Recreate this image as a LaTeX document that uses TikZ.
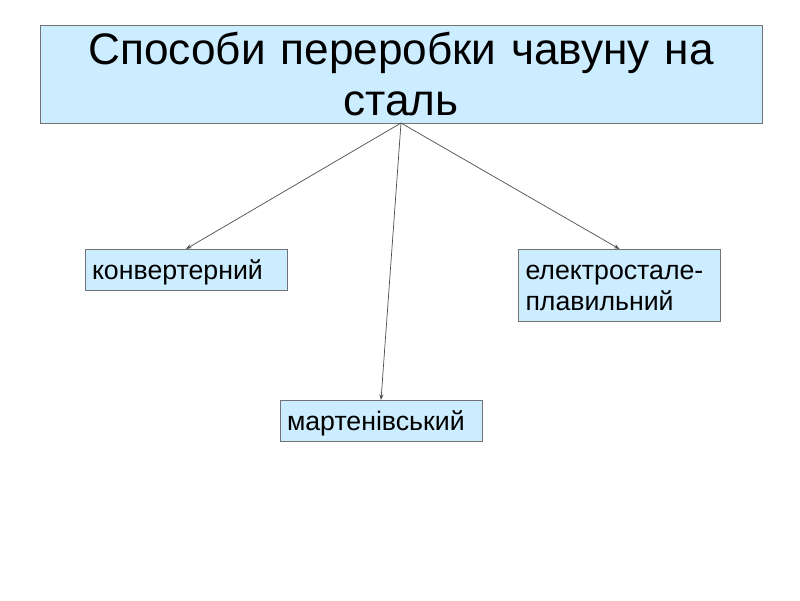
\documentclass[tikz,border=0pt]{standalone}
\usepackage{fontspec}
\setmainfont{Liberation Sans}
\usetikzlibrary{arrows.meta, positioning}

\begin{document}
\begin{tikzpicture}[
  x=0.025cm, y=-0.025cm,
  box/.style={rectangle, draw=black!55, fill={rgb,255:red,204;green,236;blue,255},
             line width=0.6pt, inner sep=0pt, outer sep=0pt},
  headbox/.style={box, minimum width=722*0.025cm, minimum height=98*0.025cm,
             text width=700*0.025cm, align=center,
             font=\fontsize{31.4}{36.9}\selectfont},
  waybox/.style={box, minimum width=202*0.025cm, text width=188*0.025cm,
             align=left, font=\fontsize{19}{22}\selectfont},
  oneline/.style={text height=16pt, text depth=2pt},
  arrow/.style={-{Stealth[length=4pt, width=3pt, open]}, line width=0.5pt, color=black!70}
]
\useasboundingbox (0,0) rectangle (800,600);
\node[headbox] (head) at (401,74) {Способи переробки чавуну на\\сталь};
\node[waybox, oneline, minimum height=41*0.025cm] (conv) at (186,269.5) {конвертерний};
\node[waybox, minimum height=72*0.025cm] (elec) at (619.5,285) {\rule{0pt}{15pt}електростале-\\плавильний};
\node[waybox, oneline, minimum height=41*0.025cm] (mart) at (381,420.5) {мартенівський};

\draw[arrow] (head.south) -- (conv.north);
\draw[arrow] (head.south) -- (mart.north);
\draw[arrow] (head.south) -- (elec.north);
\end{tikzpicture}
\end{document}
